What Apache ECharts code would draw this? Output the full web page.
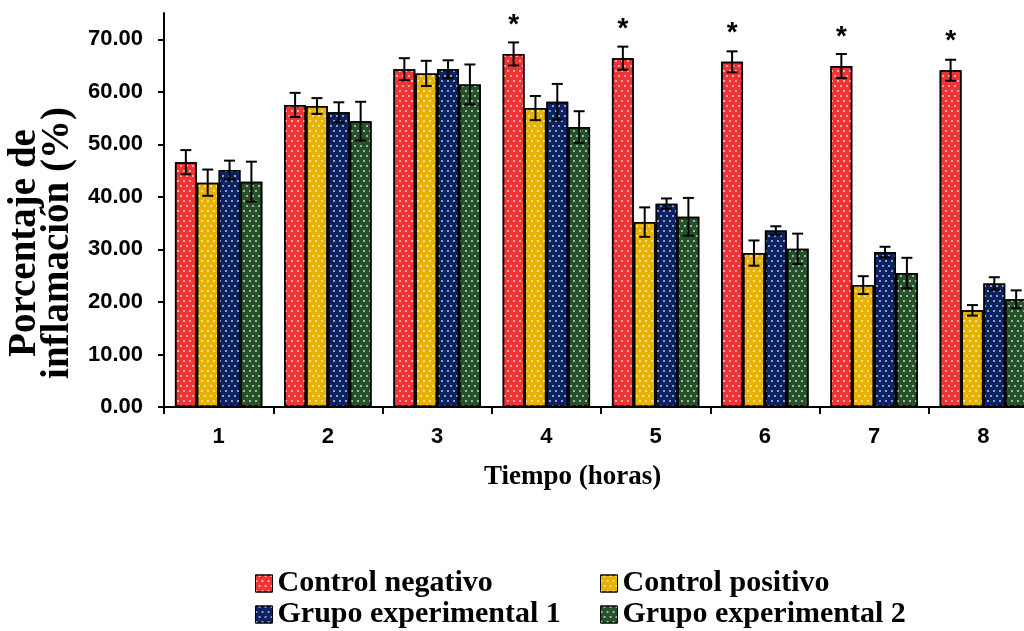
<!DOCTYPE html>
<html>
<head>
<meta charset="utf-8">
<script src="https://cdn.jsdelivr.net/npm/echarts@6/dist/echarts.min.js"></script>
<style>html,body{margin:0;padding:0;background:#fff;}#chart{width:1024px;height:631px;}</style>
</head>
<body>
<div id="chart"></div>
<script>
var categories = ['1', '2', '3', '4', '5', '6', '7', '8'];
var seriesNames = ['Control negativo', 'Control positivo', 'Grupo experimental 1', 'Grupo experimental 2'];
var controlNegativo = [46.6, 57.5, 64.3, 67.2, 66.4, 65.7, 64.9, 64.1];
var controlNegativoErr = [2.3, 2.3, 2.1, 2.2, 2.2, 2.0, 2.3, 2.0];
var controlPositivo = [42.7, 57.3, 63.5, 56.9, 35.2, 29.3, 23.2, 18.4];
var controlPositivoErr = [2.5, 1.5, 2.4, 2.3, 2.8, 2.4, 1.7, 1.0];
var grupoExp1 = [45.1, 56.1, 64.3, 58.1, 38.7, 33.6, 29.5, 23.5];
var grupoExp1Err = [1.8, 1.9, 1.7, 3.4, 1.0, 0.8, 1.0, 1.2];
var grupoExp2 = [42.9, 54.4, 61.4, 53.3, 36.2, 30.1, 25.5, 20.5];
var grupoExp2Err = [3.8, 3.7, 3.8, 3.0, 3.6, 2.9, 2.9, 1.7];
var significance = ['', '', '', '*', '*', '*', '*', '*'];
var yTicks = [0, 10, 20, 30, 40, 50, 60, 70];

var colors = ['#EE3434', '#E8B300', '#0B2263', '#26522A'];
var values = [controlNegativo, controlPositivo, grupoExp1, grupoExp2];
var errors = [controlNegativoErr, controlPositivoErr, grupoExp1Err, grupoExp2Err];

var SANS = "'Liberation Sans', Arial, sans-serif";
var SERIF = "'Liberation Serif', 'Times New Roman', serif";
var CAT_GAP = 0.2;

var decal = {
  symbol: 'rect',
  symbolSize: 0.8,
  color: 'rgba(255,255,255,0.95)',
  dashArrayX: [[2, 4], [0, 3, 2, 1]],
  dashArrayY: [2, 3],
  rotation: 0
};

var series = [];
values.forEach(function (vals, s) {
  series.push({
    name: seriesNames[s],
    type: 'bar',
    data: vals,
    barGap: '0%',
    barCategoryGap: (CAT_GAP * 100) + '%',
    itemStyle: { color: colors[s], borderColor: '#000', borderWidth: 1.5, decal: decal },
    label: s === 0 ? {
      show: true,
      position: 'top',
      distance: 15,
      formatter: function (p) { return significance[p.dataIndex]; },
      fontFamily: SANS, fontWeight: 'bold', fontSize: 28, color: '#000'
    } : { show: false },
    z: 2
  });
});
values.forEach(function (vals, s) {
  series.push({
    name: 'err' + s,
    type: 'custom',
    z: 5,
    encode: { x: 0, y: 1 },
    data: vals.map(function (v, i) { return [i, v, errors[s][i]]; }),
    renderItem: function (params, api) {
      var idx = api.value(0), v = api.value(1), e = api.value(2);
      var catW = api.size([1, 0])[0];
      var barW = catW * (1 - CAT_GAP) / 4;
      var c = api.coord([idx, v]);
      var x = c[0] + (s - 1.5) * barW;
      var yt = api.coord([idx, v + e])[1];
      var yb = api.coord([idx, v - e])[1];
      var hw = 5.5;
      var st = { stroke: '#000', lineWidth: 2 };
      return {
        type: 'group',
        children: [
          { type: 'line', shape: { x1: x, y1: yt, x2: x, y2: yb }, style: st },
          { type: 'line', shape: { x1: x - hw, y1: yt, x2: x + hw, y2: yt }, style: st },
          { type: 'line', shape: { x1: x - hw, y1: yb, x2: x + hw, y2: yb }, style: st }
        ]
      };
    }
  });
});

var legendText = { fontFamily: SERIF, fontWeight: 'bold', fontSize: 30, lineHeight: 31, color: '#000' };
var legendCommon = {
  orient: 'vertical', top: 568, height: 63, itemGap: 0, padding: 0,
  icon: 'rect', itemWidth: 17, itemHeight: 17,
  itemStyle: { borderColor: '#000', borderWidth: 1 },
  textStyle: legendText
};

var chart = echarts.init(document.getElementById('chart'), null, { renderer: 'canvas' });
chart.setOption({
  animation: false,
  backgroundColor: '#fff',
  title: {
    text: 'Tiempo (horas)',
    left: 479, top: 459,
    textStyle: { fontFamily: SERIF, fontWeight: 'bold', fontSize: 27, color: '#000' }
  },
  graphic: [{
    type: 'text',
    x: 41, y: 243,
    rotation: Math.PI / 2,
    style: {
      text: 'Porcentaje de\ninflamación (%)',
      fontFamily: SERIF, fontWeight: 'bold', fontSize: 39, lineHeight: 33,
      fill: '#000', align: 'center', verticalAlign: 'middle'
    }
  }],
  legend: [
    Object.assign({ data: [seriesNames[0], seriesNames[2]], left: 255 }, legendCommon),
    Object.assign({ data: [seriesNames[1], seriesNames[3]], left: 600 }, legendCommon)
  ],
  grid: { left: 164, width: 874, top: 13, height: 394, containLabel: false, outerBoundsMode: 'none' },
  xAxis: {
    type: 'category',
    data: categories,
    axisLine: { lineStyle: { color: '#000', width: 2 } },
    axisTick: { show: true, length: 7, lineStyle: { color: '#000', width: 2 } },
    axisLabel: { margin: 19, fontFamily: SANS, fontWeight: 'bold', fontSize: 22, color: '#000' }
  },
  yAxis: {
    type: 'value',
    min: 0, max: 75, interval: 10,
    splitLine: { show: false },
    axisLine: { show: true, lineStyle: { color: '#000', width: 2 } },
    axisTick: { show: true, length: 6, customValues: yTicks, lineStyle: { color: '#000', width: 2 } },
    axisLabel: {
      customValues: yTicks,
      margin: 21,
      fontFamily: SANS, fontWeight: 'bold', fontSize: 22, color: '#000',
      formatter: function (v) { return v.toFixed(2); }
    }
  },
  series: series
});
</script>
</body>
</html>
